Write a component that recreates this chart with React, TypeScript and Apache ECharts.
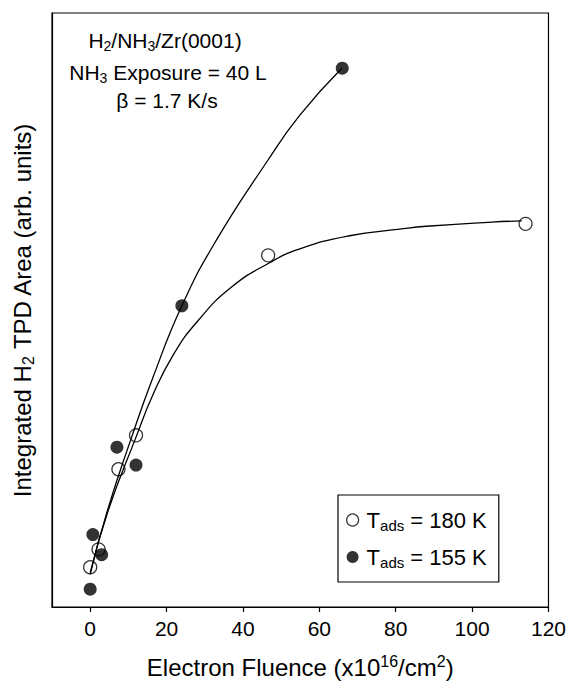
import React, { useEffect, useRef } from "react";
import * as echarts from "echarts";

// Measured data (x: electron fluence x10^16/cm^2, y: integrated H2 TPD area, arb. units)
const openX = [0, 2.2, 7.4, 12, 46.6, 114];
const openY = [6.7, 9.7, 23.2, 28.9, 59.2, 64.5];
const filledX = [0, 0.7, 3, 7, 12, 24, 66];
const filledY = [3.0, 12.2, 8.8, 26.9, 23.9, 50.7, 90.7];

// Fitted curves
const openFitX = [0, 4.7, 12.0, 16.4, 21.9, 28.1, 36.7, 47.1, 54.9, 67.9, 81.0, 88.0, 105.2, 113.0];
const openFitY = [5.8, 16.2, 28.6, 35.7, 42.6, 48.1, 53.7, 58.0, 60.3, 62.5, 63.6, 64.1, 64.8, 65.0];
const filledFitX = [0, 4.4, 10.7, 16.4, 24.0, 32.8, 46.3, 54.9, 65.9];
const filledFitY = [5.5, 16.0, 28.3, 38.6, 50.7, 61.5, 75.0, 82.8, 90.7];

const xTicks = [0, 20, 40, 60, 80, 100, 120];

const FONT = "'Liberation Sans', Arial, Helvetica, sans-serif";

function pairs(xs: number[], ys: number[]) {
  return xs.map((x, i) => [x, ys[i]]);
}

export default function App() {
  const ref = useRef<HTMLDivElement>(null);
  useEffect(() => {
    if (!ref.current) return;
    const chart = echarts.init(ref.current, null, { renderer: "svg" });
    const subRich = (size: number, lh: number) => ({
      n: { fontSize: size, fontFamily: FONT, color: "#000", lineHeight: lh },
      s: { fontSize: Math.round(size * 0.66), fontFamily: FONT, color: "#000", lineHeight: Math.round(size * 0.66), padding: [Math.round(size * 0.5), 0, 0, 0] },
      u: { fontSize: Math.round(size * 0.66), fontFamily: FONT, color: "#000", lineHeight: Math.round(size * 0.66), padding: [0, 0, Math.round(size * 0.5), 0] },
    });
    chart.setOption({
      animation: false,
      backgroundColor: "#fff",
      grid: { left: 51, right: 19, top: 13, bottom: 68, show: true, borderColor: "#000", borderWidth: 1.2, backgroundColor: "transparent" },
      xAxis: {
        type: "value",
        min: -10,
        max: 120,
        splitLine: { show: false },
        axisLine: { onZero: false, lineStyle: { color: "#000", width: 1.2 } },
        axisTick: { show: true, customValues: xTicks, length: 5, inside: false, lineStyle: { color: "#000", width: 1.2 } },
        axisLabel: { customValues: xTicks, color: "#000", fontSize: 21, fontFamily: FONT, margin: 11 },
        name: "{n|Electron Fluence (x10}{u|16}{n|/cm}{u|2}{n|)}",
        nameLocation: "middle",
        nameGap: 46,
        nameTextStyle: { rich: subRich(24, 28) },
      },
      yAxis: {
        type: "value",
        min: 0,
        max: 100,
        splitLine: { show: false },
        axisLine: { show: true, onZero: false, lineStyle: { color: "#000", width: 1.2 } },
        axisTick: { show: false },
        axisLabel: { show: false },
        name: "{n|Integrated H}{s|2}{n| TPD Area (arb. units)}",
        nameLocation: "middle",
        nameRotate: 90,
        nameGap: 16,
        nameTextStyle: { rich: subRich(24, 28) },
      },
      legend: {
        orient: "vertical",
        left: 338,
        top: 495,
        padding: [12, 12, 12, 8],
        itemGap: 11,
        itemWidth: 12,
        itemHeight: 12,
        borderColor: "#000",
        borderWidth: 1.2,
        backgroundColor: "#fff",
        data: [
          { name: "180", icon: "circle", itemStyle: { color: "#fff", borderColor: "#000", borderWidth: 1.2 } },
          { name: "155", icon: "circle", itemStyle: { color: "#000", borderColor: "#000", borderWidth: 0 } },
        ],
        formatter: (name: string) => `{n|T}{s|ads}{n| = ${name} K}`,
        textStyle: { rich: subRich(22, 27), padding: [0, 0, 0, 3] },
      },
      graphic: [
        {
          type: "text",
          x: 165,
          y: 40,
          style: { text: "{n|H}{s|2}{n|/NH}{s|3}{n|/Zr(0001)}", rich: subRich(21, 24), align: "center", verticalAlign: "middle" },
        },
        {
          type: "text",
          x: 168,
          y: 72,
          style: { text: "{n|NH}{s|3}{n| Exposure = 40 L}", rich: subRich(21, 24), align: "center", verticalAlign: "middle" },
        },
        {
          type: "text",
          x: 167,
          y: 100,
          style: { text: "{n|β = 1.7 K/s}", rich: subRich(21, 24), align: "center", verticalAlign: "middle" },
        },
      ],
      series: [
        {
          name: "fit180",
          type: "line",
          data: pairs(openFitX, openFitY),
          smooth: 0.5,
          showSymbol: false,
          symbol: "none",
          lineStyle: { color: "#000", width: 1.3 },
          silent: true,
          z: 2,
        },
        {
          name: "fit155",
          type: "line",
          data: pairs(filledFitX, filledFitY),
          smooth: 0.5,
          showSymbol: false,
          symbol: "none",
          lineStyle: { color: "#000", width: 1.3 },
          silent: true,
          z: 2,
        },
        {
          name: "180",
          type: "scatter",
          data: pairs(openX, openY),
          symbol: "circle",
          symbolSize: 13,
          itemStyle: { color: "transparent", borderColor: "#000", borderWidth: 1.3 },
          z: 3,
        },
        {
          name: "155",
          type: "scatter",
          data: pairs(filledX, filledY),
          symbol: "circle",
          symbolSize: 13,
          itemStyle: { color: "#000", borderColor: "#000", borderWidth: 0 },
          z: 3,
        },
      ],
    });
    return () => chart.dispose();
  }, []);
  return (
    <div
      ref={ref}
      style={{ position: "absolute", left: 0, top: 0, width: 569, height: 686, background: "#fff" }}
    />
  );
}
